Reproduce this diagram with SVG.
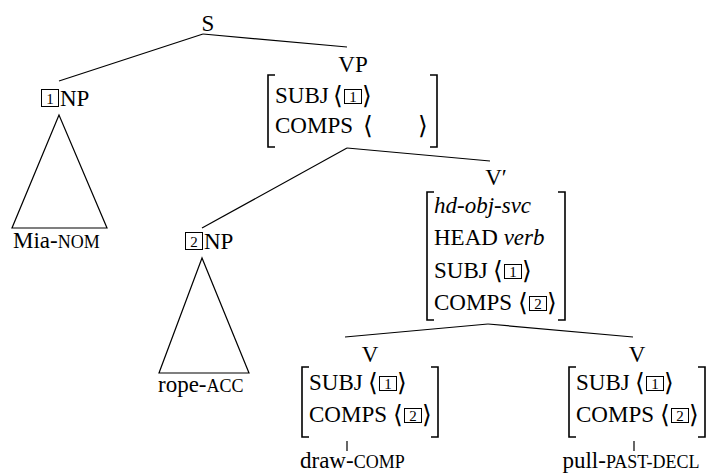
<svg xmlns="http://www.w3.org/2000/svg" width="712" height="476" viewBox="0 0 712 476">
  <style>
    text { font-family: "Liberation Serif", "Times New Roman", serif; font-size: 23px; fill: #000; }
    .lbl { text-anchor: middle; }
    .it { font-style: italic; }
    .sc { font-size: 18px; }
    .ang { font-family: "DejaVu Serif", "Liberation Serif", serif; font-size: 25px; font-weight: 300; }
    .tag { font-size: 15px; text-anchor: middle; }
    .box { fill: none; stroke: #000; stroke-width: 1; }
    .br { fill: none; stroke: #000; stroke-width: 1.6; }
    .edge { fill: none; stroke: #000; stroke-width: 1.2; }
  </style>

  <!-- tree branches -->
  <g id="connectors">
    <path class="edge" d="M203,34 L59,81"/>
    <path class="edge" d="M203,34 L347,47"/>
    <path class="edge" d="M347,148 L202,228"/>
    <path class="edge" d="M347,148 L490,161"/>
    <path class="edge" d="M488,324 L345,337"/>
    <path class="edge" d="M488,324 L633,337"/>
    <path class="edge" d="M347,441 L347,451"/>
    <path class="edge" d="M634,441 L634,451"/>
  </g>

  <g id="node-S">
    <text class="lbl" x="208" y="31">S</text>
  </g>

  <g id="node-NP1">
    <rect class="box" x="41.5" y="89.5" width="17" height="17"/>
    <text class="tag" x="50" y="104">1</text>
    <text x="60" y="106">NP</text>
    <path class="edge" d="M59,115 L12,228 L107,228 Z"/>
    <text x="13" y="248">Mia-<tspan class="sc">NOM</tspan></text>
  </g>

  <g id="node-VP">
    <text class="lbl" x="353" y="72">VP</text>
    <path class="br" d="M275,75 H268 V147 H275"/>
    <path class="br" d="M430,75 H437 V147 H430"/>
    <text x="275" y="103">SUBJ</text>
    <text class="ang" x="333" y="104">⟨</text>
    <rect class="box" x="344.5" y="89.5" width="17" height="14"/>
    <text class="tag" x="353" y="102">1</text>
    <text class="ang" x="362" y="104">⟩</text>
    <text x="275" y="133">COMPS</text>
    <text class="ang" x="363" y="134">⟨</text>
    <text class="ang" x="418" y="134">⟩</text>
  </g>

  <g id="node-NP2">
    <rect class="box" x="185.5" y="232.5" width="17" height="17"/>
    <text class="tag" x="194" y="247">2</text>
    <text x="204" y="249">NP</text>
    <path class="edge" d="M202,258 L159,373 L249,373 Z"/>
    <text x="158" y="392">rope-<tspan class="sc">ACC</tspan></text>
  </g>

  <g id="node-Vbar">
    <text class="lbl" x="496" y="185">V′</text>
    <path class="br" d="M434,192 H427 V320 H434"/>
    <path class="br" d="M558,192 H565 V320 H558"/>
    <text class="it" x="434" y="213">hd-obj-svc</text>
    <text x="434" y="245">HEAD <tspan class="it">verb</tspan></text>
    <text x="434" y="278">SUBJ</text>
    <text class="ang" x="493" y="279">⟨</text>
    <rect class="box" x="504.5" y="264.5" width="17" height="14"/>
    <text class="tag" x="513" y="277">1</text>
    <text class="ang" x="522" y="279">⟩</text>
    <text x="434" y="310">COMPS</text>
    <text class="ang" x="518" y="311">⟨</text>
    <rect class="box" x="529.5" y="296.5" width="17" height="14"/>
    <text class="tag" x="538" y="309">2</text>
    <text class="ang" x="547" y="311">⟩</text>
  </g>

  <g id="node-V1">
    <text class="lbl" x="370" y="362">V</text>
    <path class="br" d="M309,367 H302 V437 H309"/>
    <path class="br" d="M431,367 H438 V437 H431"/>
    <text x="309" y="390">SUBJ</text>
    <text class="ang" x="368" y="391">⟨</text>
    <rect class="box" x="379.5" y="376.5" width="17" height="14"/>
    <text class="tag" x="388" y="389">1</text>
    <text class="ang" x="397" y="391">⟩</text>
    <text x="309" y="422">COMPS</text>
    <text class="ang" x="393" y="423">⟨</text>
    <rect class="box" x="404.5" y="408.5" width="17" height="14"/>
    <text class="tag" x="413" y="421">2</text>
    <text class="ang" x="422" y="423">⟩</text>
    <text x="300" y="468">draw-<tspan class="sc">COMP</tspan></text>
  </g>

  <g id="node-V2">
    <text class="lbl" x="637" y="362">V</text>
    <path class="br" d="M576,367 H569 V437 H576"/>
    <path class="br" d="M698,367 H705 V437 H698"/>
    <text x="576" y="390">SUBJ</text>
    <text class="ang" x="635" y="391">⟨</text>
    <rect class="box" x="646.5" y="376.5" width="17" height="14"/>
    <text class="tag" x="655" y="389">1</text>
    <text class="ang" x="664" y="391">⟩</text>
    <text x="576" y="422">COMPS</text>
    <text class="ang" x="660" y="423">⟨</text>
    <rect class="box" x="671.5" y="408.5" width="17" height="14"/>
    <text class="tag" x="680" y="421">2</text>
    <text class="ang" x="689" y="423">⟩</text>
    <text class="lbl" x="631" y="468">pull-<tspan class="sc">PAST-DECL</tspan></text>
  </g>
</svg>
